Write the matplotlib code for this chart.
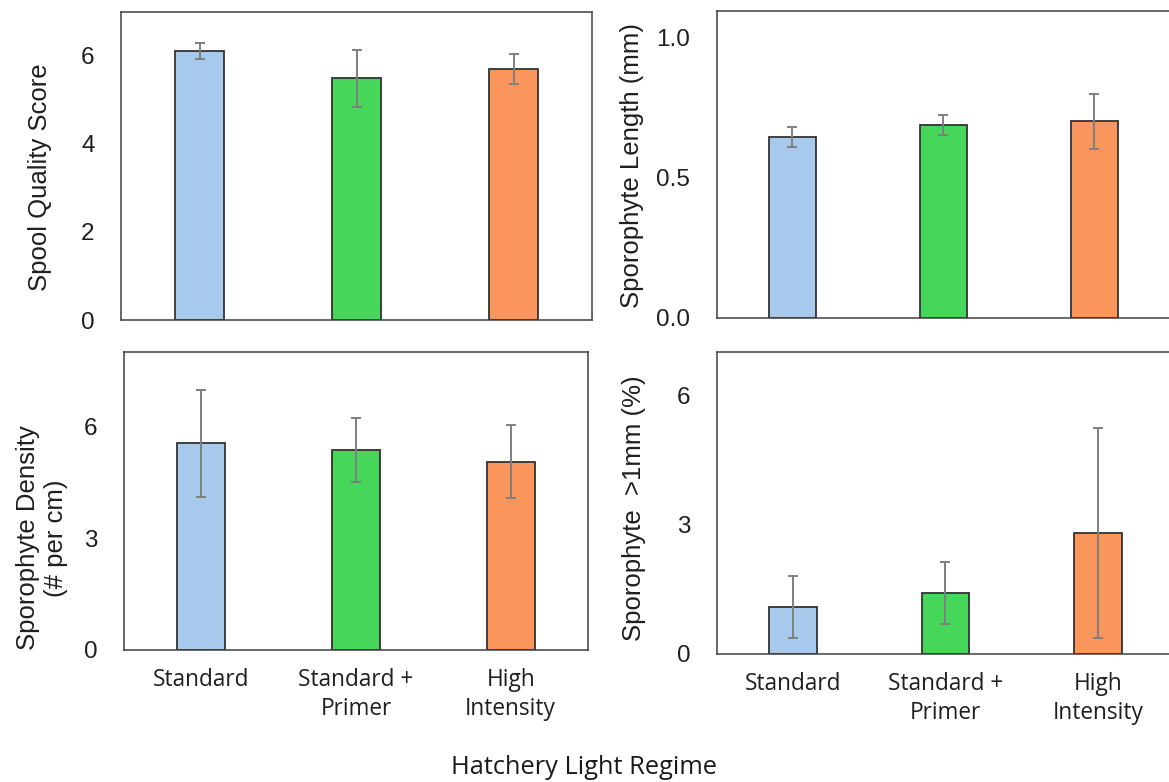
import matplotlib
matplotlib.use("Agg")
import matplotlib.pyplot as plt

categories = ["Standard", "Standard +\nPrimer", "High\nIntensity"]
colors = ["#A7CAEC", "#45D65A", "#FA965B"]

spool_score = [6.11, 5.49, 5.71]
spool_err = [0.18, 0.64, 0.34]

length_mm = [0.645, 0.688, 0.702]
length_err = [0.036, 0.036, 0.097]

density = [5.55, 5.38, 5.06]
density_err = [1.44, 0.86, 0.97]

pct_over1mm = [1.09, 1.42, 2.82]
pct_err = [0.72, 0.72, 2.44]

W, H = 1169, 782
fig = plt.figure(figsize=(W / 100, H / 100), dpi=100)

def px_rect(l, r, t, b):
    return [l / W, (H - b) / H, (r - l) / W, (b - t) / H]

panels = [
    dict(rect=px_rect(121, 592, 12, 320), vals=spool_score, errs=spool_err,
         ylim=(0, 7), yticks=[0, 2, 4, 6], fmt="{:.0f}",
         ylabel="Spool Quality Score", lab=(40, 177), xt=False),
    dict(rect=px_rect(716.7, 1169.6, 11, 318), vals=length_mm, errs=length_err,
         ylim=(0, 1.096), yticks=[0.0, 0.5, 1.0], fmt="{:.1f}",
         ylabel="Sporophyte Length (mm)", lab=(632, 166), xt=False),
    dict(rect=px_rect(124, 588, 352, 650), vals=density, errs=density_err,
         ylim=(0, 8), yticks=[0, 3, 6], fmt="{:.0f}",
         ylabel="Sporophyte Density\n(# per cm)", lab=(42, 538), xt=True),
    dict(rect=px_rect(716.7, 1174.2, 352, 654), vals=pct_over1mm, errs=pct_err,
         ylim=(0, 7.02), yticks=[0, 3, 6], fmt="{:.0f}",
         ylabel="Sporophyte  >1mm (%)", lab=(634, 508), xt=True),
]

x = list(range(len(categories)))
for p in panels:
    ax = fig.add_axes(p["rect"])
    ax.bar(x, p["vals"], width=0.31, color=colors, edgecolor="#333333",
           linewidth=1.3, zorder=2)
    ax.errorbar(x, p["vals"], yerr=p["errs"], fmt="none", ecolor="#7F7F7F",
                elinewidth=1.4, capsize=3.3, capthick=1.4, zorder=3)
    ax.set_xlim(-0.5, 2.5)
    ax.set_ylim(*p["ylim"])
    ax.set_yticks(p["yticks"])
    ax.set_yticklabels([p["fmt"].format(v) for v in p["yticks"]],
                       family="Liberation Sans", fontsize=17.5, color="#1f1f1f")
    ax.tick_params(axis="y", length=0, pad=19)
    ax.set_xticks(x)
    if p["xt"]:
        ax.set_xticklabels(categories, family="Open Sans", fontsize=16.3,
                           color="#1f1f1f", linespacing=1.3)
        ax.tick_params(axis="x", length=0, pad=13)
    else:
        ax.set_xticklabels([])
        ax.tick_params(axis="x", length=0)
    for s in ax.spines.values():
        s.set_color("#404040")
        s.set_linewidth(1.1)
    ax.set_ylabel(p["ylabel"], family="Liberation Sans", fontsize=18.5,
                  color="#1f1f1f", va="center", ha="center", linespacing=1.25)
    lx, ly = p["lab"]
    ax.yaxis.set_label_coords(lx / W, (H - ly) / H, transform=fig.transFigure)

fig.text(584 / W, (H - 767) / H, "Hatchery Light Regime", family="Open Sans",
         fontsize=18.3, color="#1a1a1a", ha="center", va="center")

fig.savefig("out.png", dpi=100, facecolor="white")
